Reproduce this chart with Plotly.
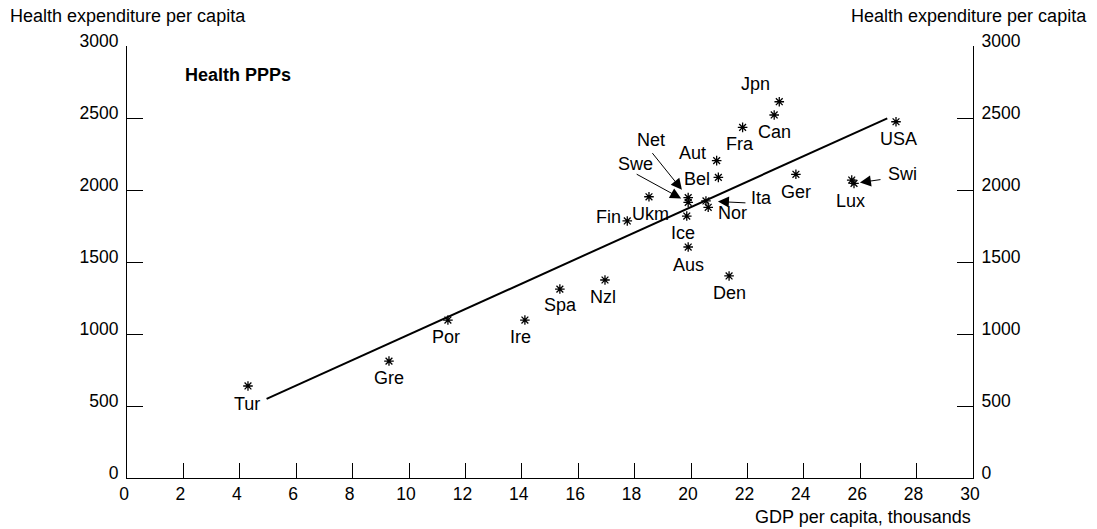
import plotly.graph_objects as go

# ---- data ----
countries = ["Tur", "Gre", "Por", "Ire", "Spa", "Nzl", "Den", "Aus", "Ice", "Fin", "Ukm",
             "Swe", "Net", "Nor", "Ita", "Bel", "Aut", "Fra", "Can", "Jpn", "Ger", "Lux",
             "Swi", "USA"]
gdp = [4.29, 9.29, 11.38, 14.11, 15.35, 16.95, 21.35, 19.90, 19.85, 17.74, 18.51,
       19.90, 19.90, 20.61, 20.53, 20.97, 20.91, 21.83, 22.95, 23.13, 23.72, 25.70,
       25.78, 27.27]
health = [639, 812, 1097, 1097, 1312, 1375, 1403, 1604, 1819, 1785, 1953,
          1914, 1947, 1880, 1924, 2088, 2204, 2435, 2521, 2613, 2109, 2069,
          2046, 2474]
fit_x = [4.95, 26.96]
fit_y = [549, 2498]
x_ticks = list(range(0, 31, 2))
y_ticks = list(range(0, 3001, 500))

# ---- label placement (pixel offsets from the point; positive dy = up) ----
label_offsets = {
    "Tur": (-1, -18), "Gre": (0, -17), "Por": (-2, -17), "Ire": (-4, -17),
    "Spa": (1, -16), "Nzl": (-2, -17), "Den": (0, -17), "Aus": (0, -18),
    "Ice": (-4, -17), "Fin": (-19, 4), "Ukm": (2, -17), "Swe": (-53, 38),
    "Net": (-37, 58), "Nor": (24, -6), "Ita": (56, 3), "Bel": (-21, -2),
    "Aut": (-24, 8), "Fra": (-3, -17), "Can": (0, -17), "Jpn": (-24, 18),
    "Ger": (0, -18), "Lux": (-1, -21), "Swi": (48, 9), "USA": (2, -17),
}
# arrows: (tail dx, tail dy (down positive), standoff)
arrows = {
    "Net": (-37, -46, 10),
    "Swe": (-53, -29, 8),
    "Ita": (41, 2, 12),
    "Swi": (28, -4, 6),
}

FONT = "Arial, Liberation Sans, sans-serif"
FS_LABEL = 18
FS_TICK = 17.5

fig = go.Figure()
fig.add_trace(go.Scatter(x=fit_x, y=fit_y, mode="lines",
                         line=dict(color="black", width=2), showlegend=False,
                         hoverinfo="skip"))
fig.add_trace(go.Scatter(x=gdp, y=health, mode="markers", text=countries,
                         marker=dict(symbol="asterisk-open", size=8, color="black",
                                     line=dict(color="black", width=1.3)),
                         showlegend=False))
# invisible trace for right axis
fig.add_trace(go.Scatter(x=[None], y=[None], yaxis="y2", showlegend=False))

annotations = []
for c, xv, yv in zip(countries, gdp, health):
    dx, dy = label_offsets[c]
    annotations.append(dict(x=xv, y=yv, xref="x", yref="y", text=c, showarrow=False,
                            xshift=dx, yshift=dy, xanchor="center", yanchor="middle",
                            font=dict(family=FONT, size=FS_LABEL, color="black")))
    if c in arrows:
        ax, ay, so = arrows[c]
        annotations.append(dict(x=xv, y=yv, xref="x", yref="y", text="", showarrow=True,
                                ax=ax, ay=ay, standoff=so, arrowhead=2, arrowsize=2.2,
                                arrowwidth=1, arrowcolor="black"))

ax_title_font = dict(family=FONT, size=FS_LABEL, color="black")
annotations += [
    dict(x=0.066, y=0.933, xref="paper", yref="paper", text="<b>Health PPPs</b>",
         showarrow=False, xanchor="left", yanchor="middle",
         font=dict(family=FONT, size=18, color="black")),
    dict(x=0, y=1, xref="paper", yref="paper", xshift=-119, yshift=30,
         text="Health expenditure per capita", showarrow=False,
         xanchor="left", yanchor="middle", font=ax_title_font),
    dict(x=1, y=1, xref="paper", yref="paper", xshift=116, yshift=30,
         text="Health expenditure per capita", showarrow=False,
         xanchor="right", yanchor="middle", font=ax_title_font),
    dict(x=1, y=0, xref="paper", yref="paper", xshift=0, yshift=-39,
         text="GDP per capita, thousands", showarrow=False,
         xanchor="right", yanchor="middle", font=ax_title_font),
]

tickfont = dict(family=FONT, size=FS_TICK, color="black")
common_y = dict(range=[0, 3000], tickvals=y_ticks, ticks="inside", ticklen=16,
                tickcolor="black", tickwidth=1, showline=True, linecolor="black",
                linewidth=1, showgrid=False, zeroline=False, tickfont=tickfont,
                ticklabelshift=-5, ticklabelstandoff=4)

fig.update_layout(
    width=1097, height=529,
    margin=dict(l=127, r=124, t=46, b=51),
    paper_bgcolor="white", plot_bgcolor="white",
    font=dict(family=FONT, size=FS_TICK, color="black"),
    xaxis=dict(range=[0, 30], tickvals=x_ticks, ticks="inside", ticklen=15,
               tickcolor="black", tickwidth=1, showline=True, linecolor="black",
               linewidth=1, showgrid=False, zeroline=False, tickfont=tickfont,
               ticklabelshift=-3),
    yaxis=dict(**common_y),
    yaxis2=dict(**common_y, overlaying="y", side="right"),
    annotations=annotations,
)

fig.write_html("out.html", config={"displayModeBar": False},
               post_script="document.body.style.margin='0px';")
